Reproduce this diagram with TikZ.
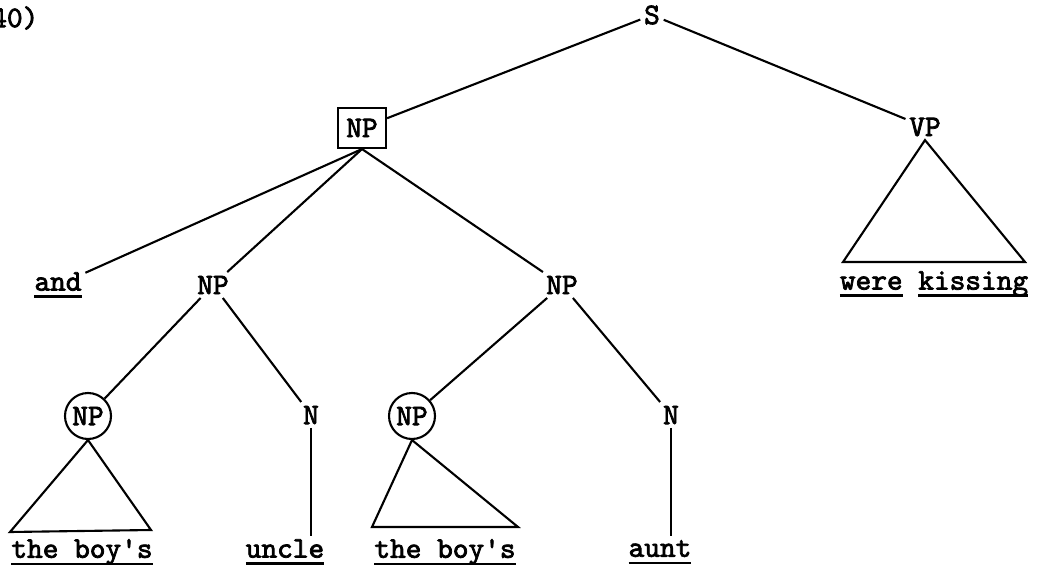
\documentclass[tikz,border=0pt]{standalone}
\usepackage{fontspec}
\setmonofont{lmmono10-regular.otf}[AutoFakeBold=2.5]
\usetikzlibrary{positioning}
% underline drawn as a thick rule under a word
\newcommand\ulword[1]{\setbox0\hbox{#1}\rlap{\rule[-4pt]{\wd0}{1.3pt}}\box0\relax}

\begin{document}
\begin{tikzpicture}[x=0.02cm, y=-0.02cm,
    lab/.style={font=\ttfamily\bfseries\fontsize{17}{19}\selectfont, inner sep=2pt},
    boxed/.style={lab, draw, line width=1.2pt, minimum width=0.96cm, minimum height=0.8cm},
    ringed/.style={lab, draw, circle, line width=1.2pt, minimum size=0.92cm, inner sep=0pt},
    edge/.style={line width=1.2pt}
]
\useasboundingbox (0,0) rectangle (1043,567);

\node[lab] (num) at (7,18) {(40)};

% upper part
\node[lab] (S) at (652,15) {S};
\node[boxed] (NPtop) at (362,128) {NP};
\node[lab] (VP) at (925,127) {VP};
\node[lab] (kiss) at (934,284) {\ulword{were} \ulword{kissing}};

% middle level
\node[lab] (and) at (58,285) {\ulword{and}};
\node[lab] (NPl) at (213,285) {NP};
\node[lab] (NPr) at (562,285) {NP};

% lower level
\node[ringed] (NPcl) at (88,416) {NP};
\node[lab] (Nl) at (311,415) {N};
\node[ringed] (NPcr) at (412,416) {NP};
\node[lab] (Nr) at (671,415) {N};

% leaves
\node[lab] (boysl) at (82,552) {\ulword{the boy's}};
\node[lab] (uncle) at (285,552) {\ulword{uncle}};
\node[lab] (boysr) at (445,552) {\ulword{the boy's}};
\node[lab] (aunt) at (660,552) {\ulword{aunt}};

% triangle corners
\coordinate (vpa) at (843,262);
\coordinate (vpb) at (1025,262);
\coordinate (tla) at (10,532);
\coordinate (tlb) at (151,530);
\coordinate (tra) at (372,527);
\coordinate (trb) at (518,527);

\draw[edge] (S) -- (NPtop);
\draw[edge] (S) -- (VP);
\draw[edge] (NPtop.south) -- (and);
\draw[edge] (NPtop.south) -- (NPl);
\draw[edge] (NPtop.south) -- (NPr);
\draw[edge] (NPl) -- (NPcl);
\draw[edge] (NPl) -- (Nl);
\draw[edge] (NPr) -- (NPcr);
\draw[edge] (NPr) -- (Nr);
\draw[edge] (Nl.south) -- (Nl.south |- uncle.north);
\draw[edge] (Nr.south) -- (Nr.south |- aunt.north);

\draw[edge] (VP.south) -- (vpa) -- (vpb) -- cycle;
\draw[edge] (NPcl.south) -- (tla) -- (tlb) -- cycle;
\draw[edge] (NPcr.south) -- (tra) -- (trb) -- cycle;
\end{tikzpicture}
\end{document}
